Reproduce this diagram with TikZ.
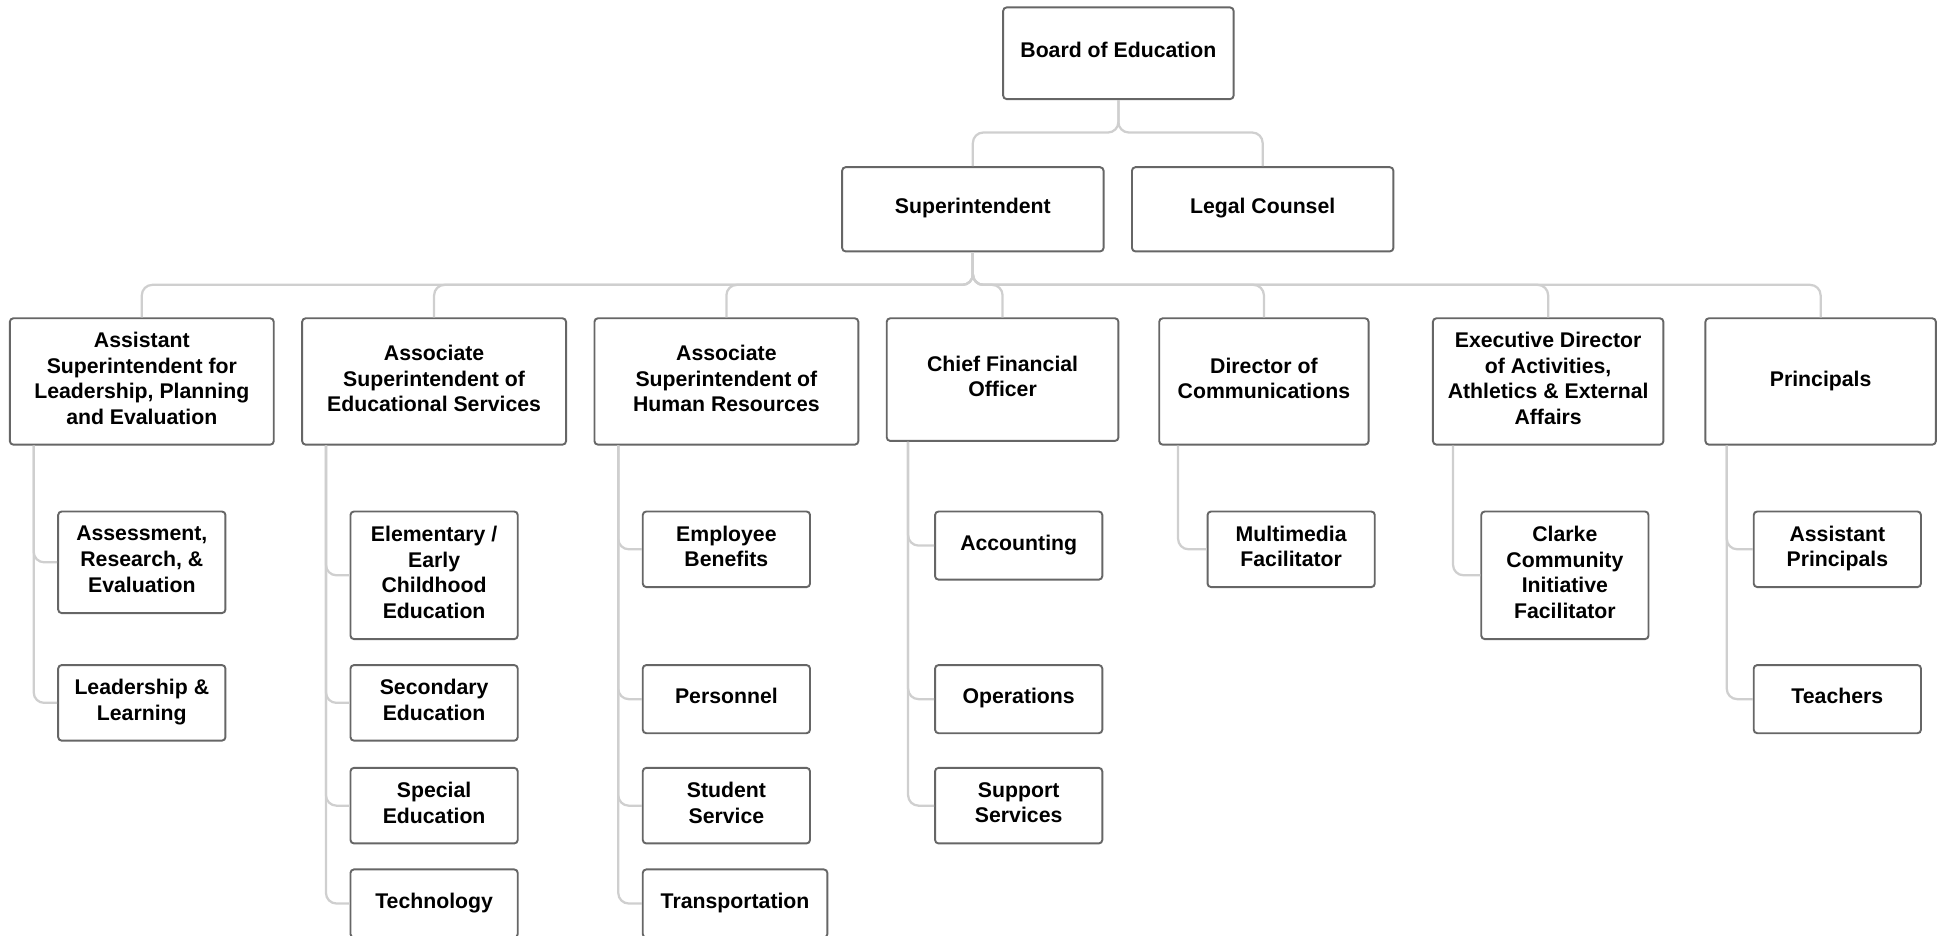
\documentclass[tikz,border=0pt]{standalone}
\usepackage{fontspec}
\setmainfont{Liberation Sans}
\usetikzlibrary{calc,positioning}

\definecolor{boxgray}{HTML}{666666}
\definecolor{linegray}{HTML}{CFCFCF}

\begin{document}
\begin{tikzpicture}[x=0.025cm, y=-0.025cm,
	box/.style={draw=boxgray, line width=1.1pt, rounded corners=2pt, fill=white, align=center, inner sep=0pt, text depth=3.6pt, font=\bfseries\fontsize{12.2}{14.7}\selectfont},
	conn/.style={draw=linegray, line width=1.3pt, rounded corners=6pt}]
		\useasboundingbox (0,0) rectangle (1568,755);

		% top levels
		\node[box, minimum width=4.65cm, minimum height=1.85cm] (B) at (903, 43) {Board of Education};
		\node[box, minimum width=5.275cm, minimum height=1.7cm] (S) at (785.5, 169) {Superintendent};
		\node[box, minimum width=5.275cm, minimum height=1.7cm] (LC) at (1019.5, 169) {Legal Counsel};

		% second level
		\node[box, minimum width=5.325cm, minimum height=2.55cm] (A1) at (114.5, 308) {Assistant\\Superintendent for\\Leadership, Planning\\and Evaluation};
		\node[box, minimum width=5.325cm, minimum height=2.55cm] (A2) at (350.5, 308) {Associate\\Superintendent of\\Educational Services};
		\node[box, minimum width=5.325cm, minimum height=2.55cm] (A3) at (586.5, 308) {Associate\\Superintendent of\\Human Resources};
		\node[box, minimum width=4.675cm, minimum height=2.475cm] (A4) at (809.5, 306.5) {Chief Financial\\Officer};
		\node[box, minimum width=4.225cm, minimum height=2.55cm] (A5) at (1020.5, 308) {Director of\\Communications};
		\node[box, minimum width=4.65cm, minimum height=2.55cm] (A6) at (1250, 308) {Executive Director\\of Activities,\\Athletics \& External\\Affairs};
		\node[box, minimum width=4.65cm, minimum height=2.55cm] (A7) at (1470, 308) {Principals};

		% third level
		\node[box, minimum width=3.375cm, minimum height=2.05cm] (A1a) at (114.5, 454) {Assessment,\\Research, \&\\Evaluation};
		\node[box, minimum width=3.375cm, minimum height=1.525cm] (A1b) at (114.5, 567.5) {Leadership \&\\Learning};

		\node[box, minimum width=3.375cm, minimum height=2.575cm] (A2a) at (350.5, 464.5) {Elementary /\\Early\\Childhood\\Education};
		\node[box, minimum width=3.375cm, minimum height=1.525cm] (A2b) at (350.5, 567.5) {Secondary\\Education};
		\node[box, minimum width=3.375cm, minimum height=1.525cm] (A2c) at (350.5, 650.5) {Special\\Education};
		\node[box, minimum width=3.375cm, minimum height=1.375cm] (A2d) at (350.5, 729.5) {Technology};

		\node[box, minimum width=3.375cm, minimum height=1.525cm] (A3a) at (586.5, 443.5) {Employee\\Benefits};
		\node[box, minimum width=3.375cm, minimum height=1.375cm] (A3b) at (586.5, 564.5) {Personnel};
		\node[box, minimum width=3.375cm, minimum height=1.525cm] (A3c) at (586.5, 650.5) {Student\\Service};
		\node[box, minimum width=3.725cm, minimum height=1.375cm] (A3d) at (593.5, 729.5) {Transportation};

		\node[box, minimum width=3.375cm, minimum height=1.375cm] (A4a) at (822.5, 440.5) {Accounting};
		\node[box, minimum width=3.375cm, minimum height=1.375cm] (A4b) at (822.5, 564.5) {Operations};
		\node[box, minimum width=3.375cm, minimum height=1.525cm] (A4c) at (822.5, 650.5) {Support\\Services};

		\node[box, minimum width=3.375cm, minimum height=1.525cm] (A5a) at (1042.5, 443.5) {Multimedia\\Facilitator};

		\node[box, minimum width=3.375cm, minimum height=2.575cm] (A6a) at (1263.5, 464.5) {Clarke\\Community\\Initiative\\Facilitator};

		\node[box, minimum width=3.375cm, minimum height=1.525cm] (A7a) at (1483.5, 443.5) {Assistant\\Principals};
		\node[box, minimum width=3.375cm, minimum height=1.375cm] (A7b) at (1483.5, 564.5) {Teachers};

		% junctions
		\coordinate (J0) at (903, 107);
		\coordinate (J1) at (785.5, 230);

		\draw[conn] (B.south) -- (J0) -| (S.north);
		\draw[conn] (B.south) -- (J0) -| (LC.north);

		\draw[conn] (S.south) -- (J1) -| (A1.north);
		\draw[conn] (S.south) -- (J1) -| (A2.north);
		\draw[conn] (S.south) -- (J1) -| (A3.north);
		\draw[conn] (S.south) -- (J1) -| (A4.north);
		\draw[conn] (S.south) -- (J1) -| (A5.north);
		\draw[conn] (S.south) -- (J1) -| (A6.north);
		\draw[conn] (S.south) -- (J1) -| (A7.north);

		\draw[conn] ($(A1.south west)+(20,0)$) |- (A1a.west);
		\draw[conn] ($(A1.south west)+(20,0)$) |- (A1b.west);

		\draw[conn] ($(A2.south west)+(20,0)$) |- (A2a.west);
		\draw[conn] ($(A2.south west)+(20,0)$) |- (A2b.west);
		\draw[conn] ($(A2.south west)+(20,0)$) |- (A2c.west);
		\draw[conn] ($(A2.south west)+(20,0)$) |- (A2d.west);

		\draw[conn] ($(A3.south west)+(20,0)$) |- (A3a.west);
		\draw[conn] ($(A3.south west)+(20,0)$) |- (A3b.west);
		\draw[conn] ($(A3.south west)+(20,0)$) |- (A3c.west);
		\draw[conn] ($(A3.south west)+(20,0)$) |- (A3d.west);

		\draw[conn] ($(A4.south west)+(18,0)$) |- (A4a.west);
		\draw[conn] ($(A4.south west)+(18,0)$) |- (A4b.west);
		\draw[conn] ($(A4.south west)+(18,0)$) |- (A4c.west);

		\draw[conn] ($(A5.south west)+(16,0)$) |- (A5a.west);

		\draw[conn] ($(A6.south west)+(17,0)$) |- (A6a.west);

		\draw[conn] ($(A7.south west)+(18,0)$) |- (A7a.west);
		\draw[conn] ($(A7.south west)+(18,0)$) |- (A7b.west);
	\end{tikzpicture}
\end{document}
